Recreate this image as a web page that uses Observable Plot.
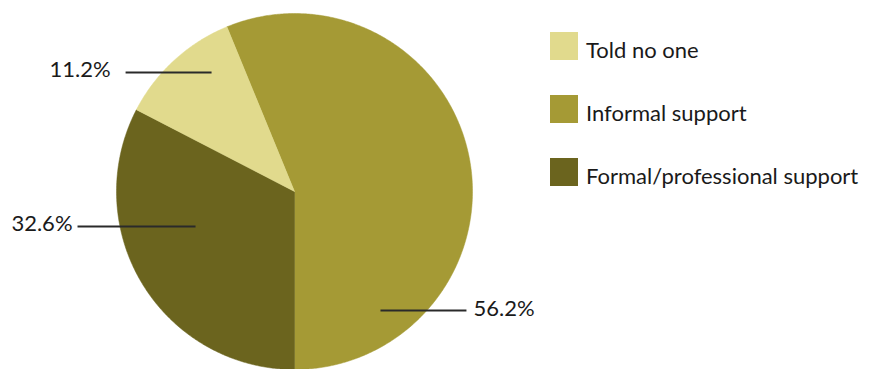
<!DOCTYPE html>
<html>
<head>
<meta charset="utf-8">
<script src="https://cdn.jsdelivr.net/npm/d3@7"></script>
<script src="https://cdn.jsdelivr.net/npm/@observablehq/plot@0.6"></script>
<style>
  html, body { margin: 0; padding: 0; background: #fff; }
  #wrap { position: relative; width: 869px; height: 369px; font-family: Lato, "Noto Sans", sans-serif; }
  #legend { position: absolute; left: 550px; top: 32px; }
  .row { display: flex; align-items: center; height: 28px; margin-bottom: 35px; font-size: 22px; color: #1a1a1a; }
  .sw { width: 28px; height: 28px; margin-right: 8px; flex: none; }
  .row span { padding-top: 6px; white-space: nowrap; }
</style>
</head>
<body>
<div id="wrap"><div id="chart"></div><div id="legend"></div></div>
<script>
// Data
const categories = ["Told no one", "Informal support", "Formal/professional support"];
const values = [11.2, 56.2, 32.6];
const labels = ["11.2%", "56.2%", "32.6%"];
const colors = ["#e1da8d", "#a59a35", "#6b641e"];
// Slice order drawn clockwise starting from the Informal support slice (which ends at the bottom)
const drawOrder = ["Informal support", "Formal/professional support", "Told no one"];
const startAngleDeg = 180 - 56.2 * 3.6; // Informal support ends straight down
// Leader lines (in pie-radius units): [x1, x2, y]
const leaderX1 = [-0.949, 0.483, -1.219];
const leaderX2 = [-0.466, 0.966, -0.556];
const leaderY = [0.669, -0.669, -0.197];

// Build slice polygons
const polys = [];
let a0 = startAngleDeg;
for (const cat of drawOrder) {
  const v = values[categories.indexOf(cat)];
  const a1 = a0 + v * 3.6;
  polys.push({cat, x: 0, y: 0});
  const n = Math.max(2, Math.ceil((a1 - a0) / 0.5));
  for (let i = 0; i <= n; i++) {
    const a = (a0 + (a1 - a0) * i / n) * Math.PI / 180;
    polys.push({cat, x: Math.sin(a), y: Math.cos(a)});
  }
  polys.push({cat, x: 0, y: 0});
  a0 = a1;
}

const leaders = categories.map((c, i) => ({cat: c, label: labels[i], x1: leaderX1[i], x2: leaderX2[i], y: leaderY[i]}));

const chart = Plot.plot({
  width: 869,
  height: 369,
  margin: 0,
  style: {fontFamily: "Lato, 'Noto Sans', sans-serif", background: "white"},
  x: {domain: [-1, 1], range: [116, 472], axis: null},
  y: {domain: [-1, 1], range: [369, 13], axis: null},
  color: {domain: categories, range: colors},
  marks: [
    Plot.line(polys, {x: "x", y: "y", z: "cat", fill: "cat", stroke: "cat", strokeWidth: 0.5, curve: "linear"}),
    Plot.link(leaders, {x1: "x1", x2: "x2", y1: "y", y2: "y", stroke: "#2a2a2a", strokeWidth: 2}),
    Plot.text(leaders.filter(d => d.cat === "Informal support"), {x: "x2", y: "y", text: "label", textAnchor: "start", dx: 7, dy: -2, fontSize: 22, fill: "#1a1a1a"}),
    Plot.text(leaders.filter(d => d.cat === "Told no one"), {x: "x1", y: "y", text: "label", textAnchor: "end", dx: -15, dy: -2, fontSize: 22, fill: "#1a1a1a"}),
    Plot.text(leaders.filter(d => d.cat === "Formal/professional support"), {x: "x1", y: "y", text: "label", textAnchor: "end", dx: -5, dy: -3, fontSize: 22, fill: "#1a1a1a"})
  ]
});
document.getElementById("chart").appendChild(chart);

const legend = document.getElementById("legend");
categories.forEach((c, i) => {
  const row = document.createElement("div");
  row.className = "row";
  const sw = document.createElement("div");
  sw.className = "sw";
  sw.style.background = colors[i];
  const t = document.createElement("span");
  t.textContent = c;
  row.appendChild(sw); row.appendChild(t);
  legend.appendChild(row);
});
</script>
</body>
</html>
